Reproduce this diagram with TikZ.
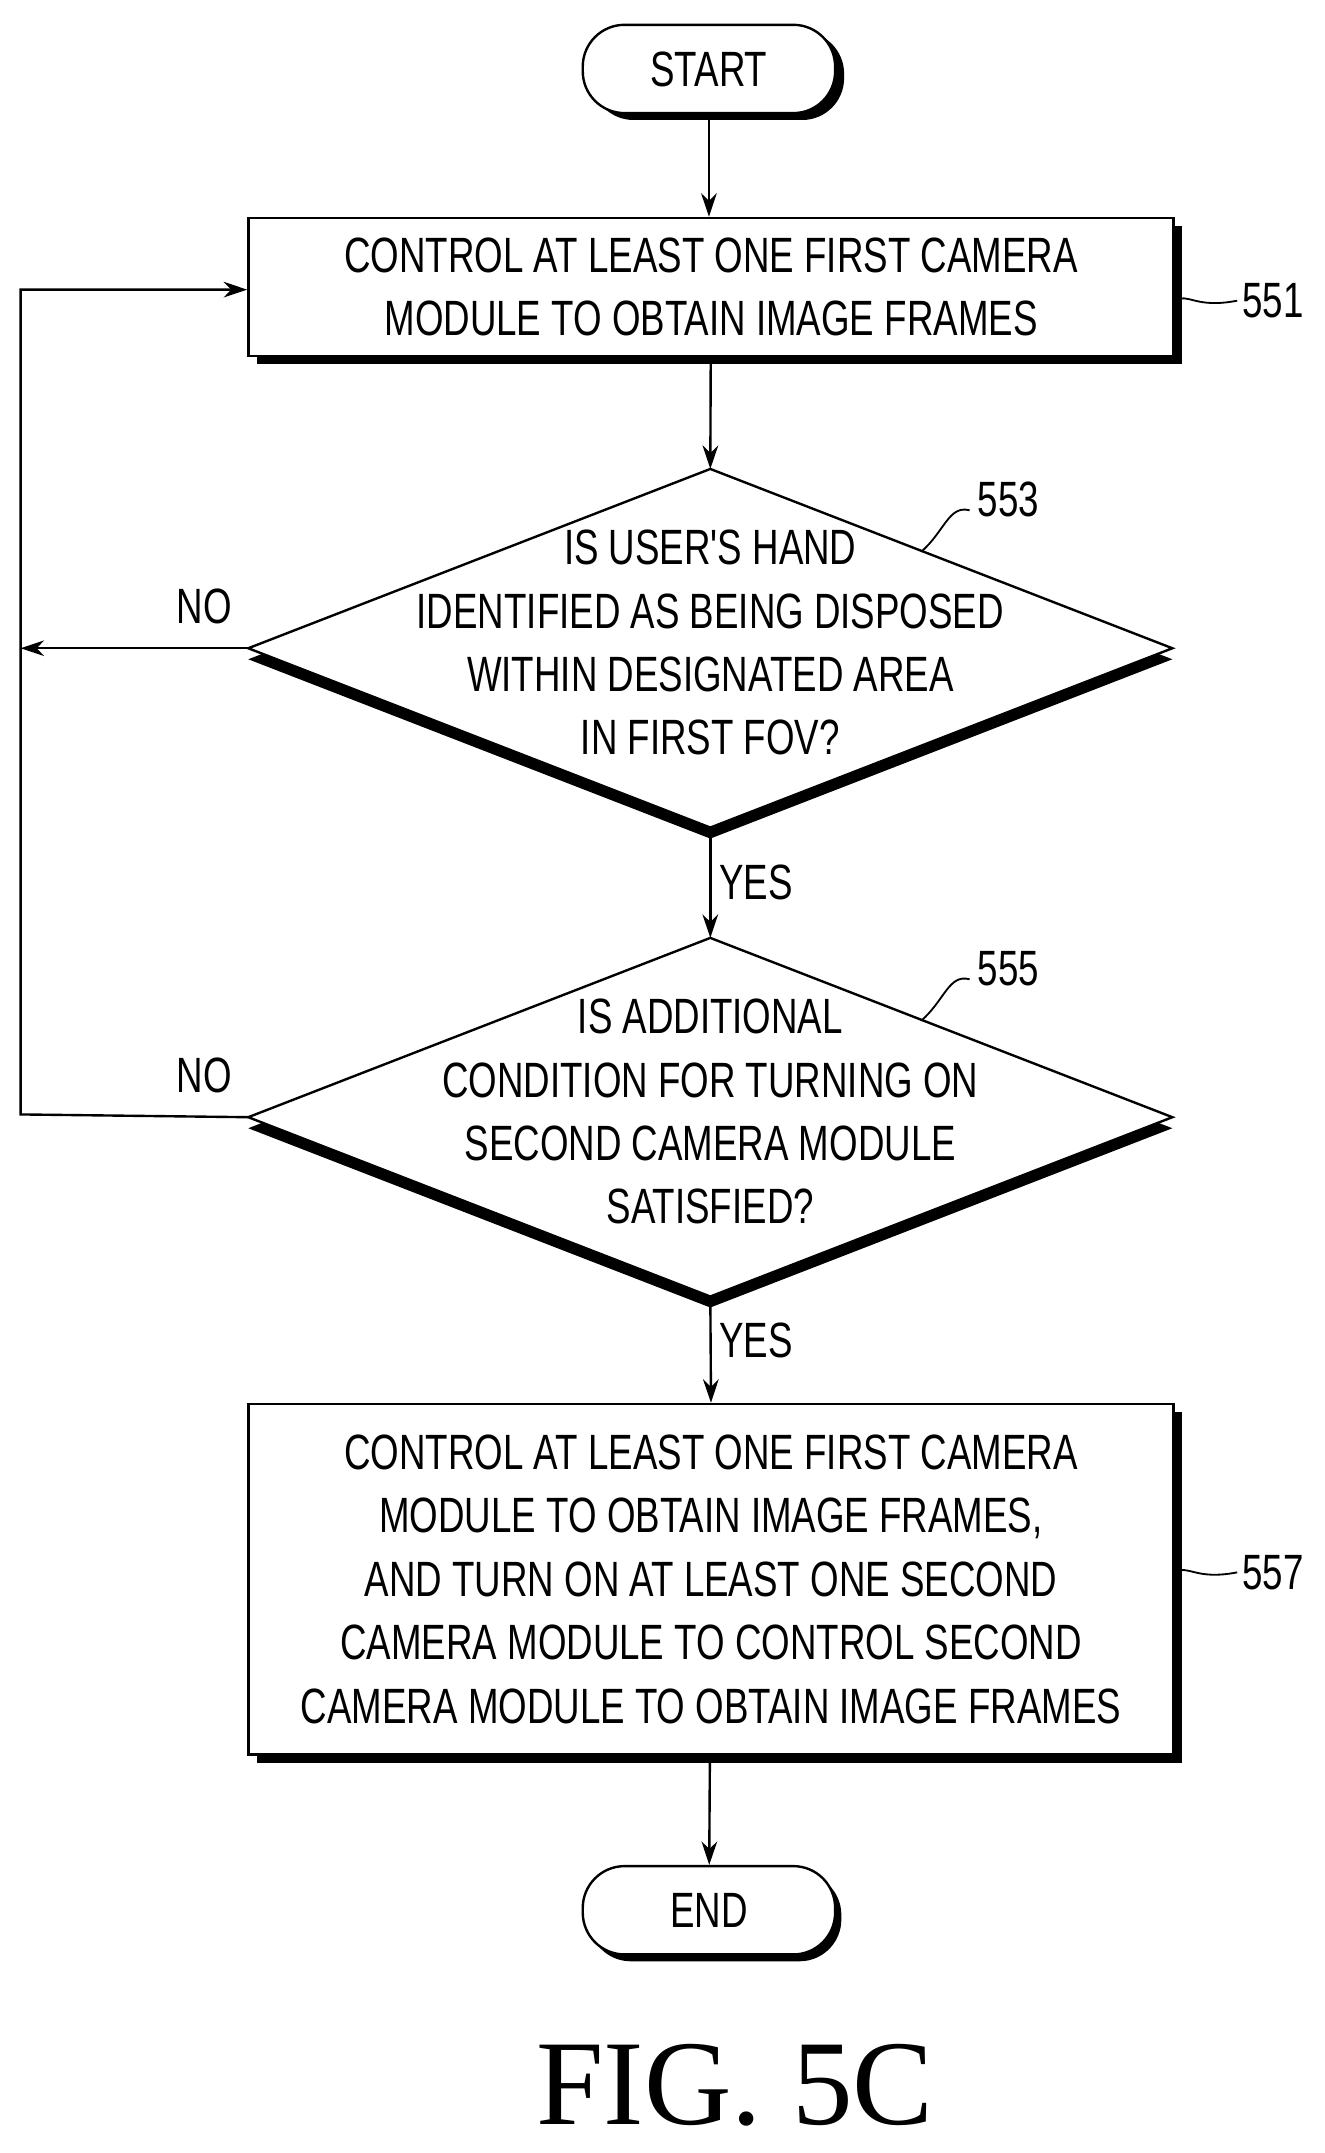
\documentclass[tikz,border=0pt]{standalone}
\usepackage{fontspec}
\setmainfont{Liberation Sans}
\newfontfamily\cond[FakeStretch=0.74]{Liberation Sans}
\newfontfamily\figfont{Liberation Serif}
\usetikzlibrary{shapes, positioning, arrows.meta}

\tikzset{
  box/.style={draw, line width=1.3pt, fill=white, minimum width=17.71cm, minimum height=2.64cm, inner sep=0pt},
  term/.style={draw, line width=1.3pt, fill=white, rounded corners=0.8cm, minimum width=4.83cm, minimum height=1.69cm},
  txt/.style={font=\cond\fontsize{27}{34.5}\selectfont, align=center},
  flow/.style={line width=1.3pt, -{Stealth[length=0.45cm, width=0.3cm]}},
  shade/.style={fill=black}
}

\begin{document}
\begin{tikzpicture}[x=0.0264cm, y=-0.0264cm]
  \useasboundingbox (0,0) rectangle (960,1561);

  % START
  \fill[shade, rounded corners=0.8cm] (429,23) rectangle (612,87);
  \node[term] (start) at (514,50) {};
  \node[txt] (starttxt) at (start) {START};

  % 551
  \fill[shade] (186,164) rectangle (857,264);
  \node[box] (s551) at (515.5,208) {};
  \node[txt] (t551) at (s551) {CONTROL AT LEAST ONE FIRST CAMERA\\MODULE TO OBTAIN IMAGE FRAMES};
  \node[txt] (n551) at (923,218) {551};
  \draw[line width=1pt] (851,218) .. controls (862,212) and (866,224) .. (897,218);

  % 553
  \coordinate (d1t) at (515,340);
  \coordinate (d1l) at (180,470);
  \coordinate (d1r) at (850,470);
  \coordinate (d1b) at (515,600);
  \fill[shade] (180,478) -- (515,608) -- (850,478) -- (515,348) -- cycle;
  \draw[line width=1.3pt, fill=white] (d1t) -- (d1r) -- (d1b) -- (d1l) -- cycle;
  \node[txt] (t553) at (515,466) {IS USER'S HAND\\IDENTIFIED AS BEING DISPOSED\\WITHIN DESIGNATED AREA\\IN FIRST FOV?};
  \node[txt] (n553) at (731,362) {553};
  \draw[line width=1pt] (668,400) .. controls (685,385) and (688,366) .. (703,370);
  \node[txt] (no1) at (148,440) {NO};
  \node[txt] (yes1) at (548,640) {YES};

  % 555
  \coordinate (d2t) at (515,680);
  \coordinate (d2l) at (180,810);
  \coordinate (d2r) at (850,810);
  \coordinate (d2b) at (515,940);
  \fill[shade] (180,818) -- (515,948) -- (850,818) -- (515,688) -- cycle;
  \draw[line width=1.3pt, fill=white] (d2t) -- (d2r) -- (d2b) -- (d2l) -- cycle;
  \node[txt] (t555) at (515,806) {IS ADDITIONAL\\CONDITION FOR TURNING ON\\SECOND CAMERA MODULE\\SATISFIED?};
  \node[txt] (n555) at (731,702) {555};
  \draw[line width=1pt] (668,740) .. controls (685,725) and (688,706) .. (703,710);
  \node[txt] (no2) at (148,780) {NO};
  \node[txt] (yes2) at (548,972) {YES};

  % 557
  \fill[shade] (186,1024) rectangle (857,1278);
  \node[box, minimum height=6.71cm] (s557) at (515.5,1145) {};
  \node[txt] (t557) at (s557) {CONTROL AT LEAST ONE FIRST CAMERA\\MODULE TO OBTAIN IMAGE FRAMES,\\AND TURN ON AT LEAST ONE SECOND\\CAMERA MODULE TO CONTROL SECOND\\CAMERA MODULE TO OBTAIN IMAGE FRAMES};
  \node[txt] (n557) at (923,1140) {557};
  \draw[line width=1pt] (851,1140) .. controls (862,1134) and (866,1146) .. (897,1140);

  % END
  \fill[shade, rounded corners=0.8cm] (427,1358) rectangle (610,1422);
  \node[term] (stop) at (514,1385) {};
  \node[txt] (stoptxt) at (stop) {END};

  % connectors
  \coordinate (loopa) at (15,470);
  \coordinate (loopb) at (15,808);
  \coordinate (loopc) at (15,210);
  \draw[flow] (start) -- (start |- s551.north);
  \draw[flow] (s551) -- (d1t);
  \draw[flow] (d1b) -- (d2t);
  \draw[flow] (d2b) -- (s557.north);
  \draw[flow] (s557) -- (stop);
  \draw[flow] (d1l) -- (loopa);
  \draw[flow] (d2l) -- (loopb) -- (loopc) -- (s551.west |- loopc);

  \node[font=\figfont\fontsize{66}{72}\selectfont] (fig) at (533,1512) {FIG. 5C};
\end{tikzpicture}
\end{document}
